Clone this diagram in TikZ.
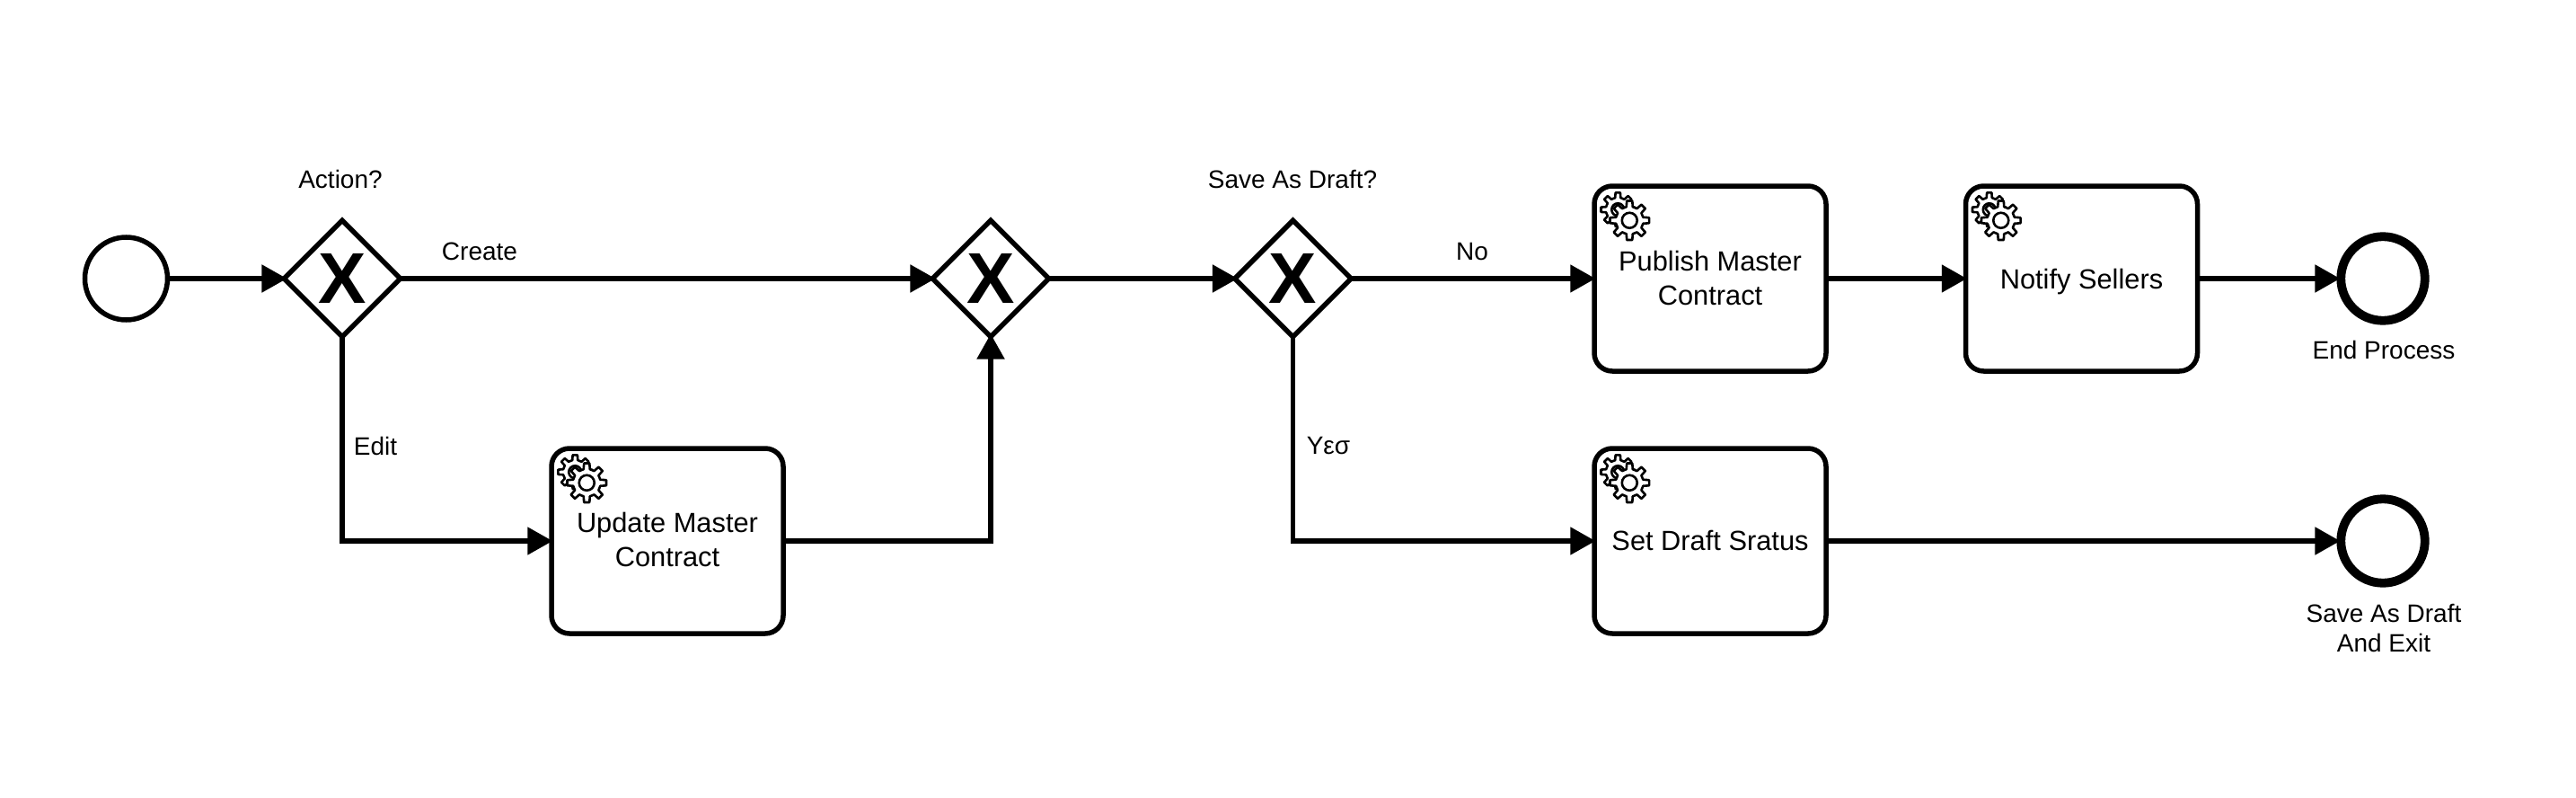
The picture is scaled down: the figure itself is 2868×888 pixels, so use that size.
\documentclass[tikz,border=0pt]{standalone}
\usepackage{fontspec}
\setmainfont{Liberation Sans}
\usetikzlibrary{arrows.meta,shapes.geometric}
\newcommand{\liftby}[2]{\raisebox{#1}[\height][\depth]{#2}}
\tikzset{
  startev/.style={circle,draw=black,fill=white,line width=2.75pt,minimum size=46pt,inner sep=0pt},
  endev/.style={circle,draw=black,fill=white,line width=4.9pt,minimum size=46.75pt,inner sep=0pt},
  gatew/.style={diamond,draw=black,fill=white,line width=2.75pt,minimum width=65.8pt,minimum height=65.8pt,inner sep=0pt,font=\fontsize{40}{40}\selectfont\bfseries},
  taskbox/.style={rectangle,draw=black,fill=white,line width=2.75pt,rounded corners=10pt,minimum width=129pt,minimum height=103pt,inner sep=0pt,align=center,font=\fontsize{15.4}{19}\selectfont},
  lbl/.style={anchor=base,inner sep=0pt,align=center,font=\fontsize{14}{16.5}\selectfont},
  flow/.style={line width=2.6pt,shorten >=-2pt,-{Triangle[length=14pt,width=15pt]}},
  togate/.style={flow,shorten >=-3.5pt},
  fromgate/.style={shorten <=-2pt},
  gearline/.style={draw=black,fill=white,line width=1.3pt,line join=round},
  gears/.pic={
    \begin{scope}[shift={(29,29)}]
      \draw[gearline] (-13:13.5) \foreach \a in {0,45,...,315} {-- (\a-13:13.5) -- (\a-8:19) -- (\a+8:19) -- (\a+13:13.5)} -- cycle;
      \draw[gearline] (0,0) circle (7);
    \end{scope}
    \begin{scope}[shift={(42,41)}]
      \draw[gearline] (-13:15.5) \foreach \a in {0,45,...,315} {-- (\a-13:15.5) -- (\a-8:22) -- (\a+8:22) -- (\a+13:15.5)} -- cycle;
      \draw[gearline] (0,0) circle (8.5);
    \end{scope}
  }
}
\begin{document}
\begin{tikzpicture}[x=0.5pt,y=-0.5pt]
\path[use as bounding box,fill=white] (0,0) rectangle (2868,888);

\node[startev] (start) at (140.5,310) {};
\node[gatew] (gwa) at (381,310) {X};
\node[gatew] (gwb) at (1103,310) {X};
\node[gatew] (gwc) at (1439.5,310) {X};
\node[taskbox] (upd) at (743,602) {\liftby{1pt}{Update Master}\\\liftby{1pt}{Contract}};
\node[taskbox] (pub) at (1904,310) {\liftby{0.5pt}{Publish Master}\\\liftby{0.5pt}{Contract}};
\node[taskbox,text depth=0pt] (noti) at (2317.5,310) {Notify Sellers};
\node[taskbox] (setd) at (1904,602) {\liftby{0.5pt}{Set Draft Sratus}};
\node[endev] (endp) at (2653,310) {};
\node[endev] (ends) at (2653,602) {};

\pic at (upd.north west) {gears};
\pic at (pub.north west) {gears};
\pic at (noti.north west) {gears};
\pic at (setd.north west) {gears};

\node[lbl] (lact) at (379,209) {Action?};
\node[lbl] (lsav) at (1439,209) {Save As Draft?};
\node[lbl] (lcre) at (534,289) {Create};
\node[lbl] (ledi) at (418,506) {Edit};
\node[lbl] (lno) at (1639,289) {No};
\node[lbl] (lyes) at (1479,505.5) {Υεσ};
\node[lbl] (lend) at (2654,399.5) {End Process};
\node[lbl] (lexi) at (2654,725) {Save As Draft\\And Exit};

\draw[togate] (start) -- (gwa);
\draw[togate,fromgate] (gwa) -- (gwb);
\draw[togate,fromgate] (gwb) -- (gwc);
\draw[flow,fromgate] (gwc) -- (pub);
\draw[flow] (pub) -- (noti);
\draw[flow] (noti) -- (endp);
\draw[flow,fromgate] (gwa.south) |- (upd.west);
\draw[togate] (upd.east) -| (gwb.south);
\draw[flow,fromgate] (gwc.south) |- (setd.west);
\draw[flow] (setd) -- (ends);
\end{tikzpicture}
\end{document}
